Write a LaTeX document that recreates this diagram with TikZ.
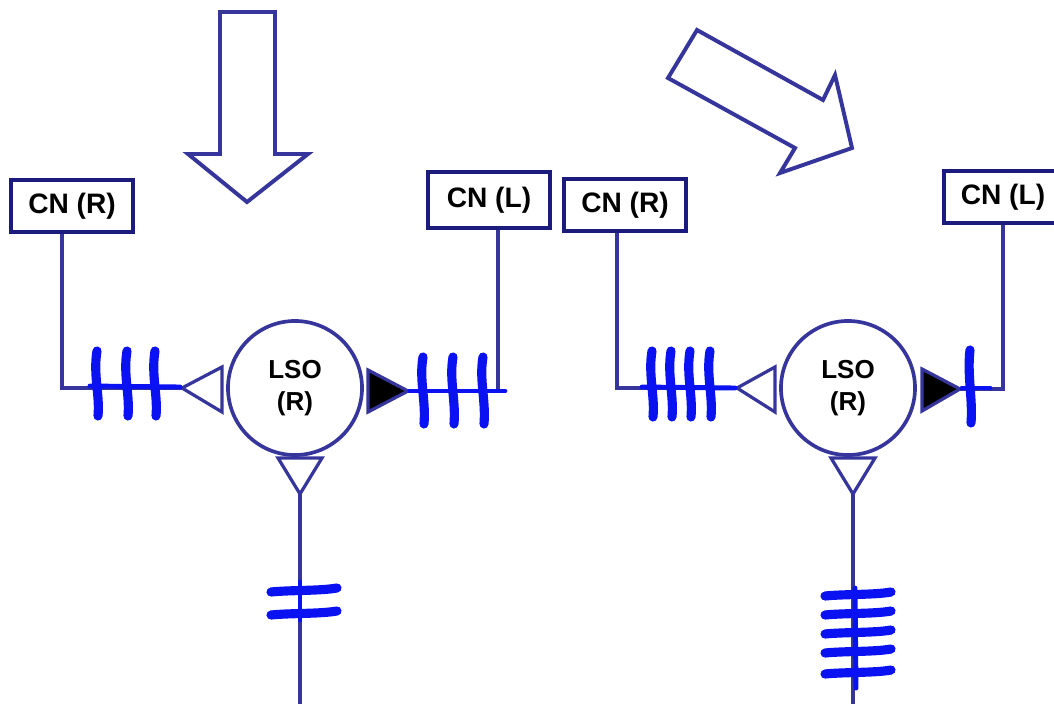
\documentclass[tikz,border=0pt]{standalone}
\usepackage{fontspec}
\setmainfont{Liberation Sans}
\usepackage{xcolor}
\definecolor{wireblue}{HTML}{35359B}
\definecolor{boxnavy}{HTML}{1B1B7D}
\definecolor{spikeblue}{HTML}{0A12F2}

\begin{document}
\begin{tikzpicture}[x=0.025cm,y=-0.025cm,
  cnbox/.style={draw=boxnavy,line width=2.8pt,fill=white,inner sep=0pt,minimum width=3.05cm,minimum height=1.32cm,font=\bfseries\fontsize{20}{24}\selectfont},
  lso/.style={circle,draw=wireblue,line width=2.6pt,fill=white,minimum size=3.35cm,inner sep=0pt,align=center,font=\bfseries\fontsize{18.5}{23}\selectfont},
  wire/.style={draw=wireblue,line width=2.3pt},
  bigarrow/.style={draw=wireblue,line width=2.8pt,line join=miter,fill=white},
  syn/.style={draw=wireblue,line width=2.3pt,line join=miter},
  spike/.style={draw=spikeblue,line width=6.5pt,line cap=round},
  spikeline/.style={draw=spikeblue,line width=3.5pt,line cap=round}]
\useasboundingbox (0,0) rectangle (1054,704);

\draw[bigarrow] (220,12) -- (275,12) -- (275,154) -- (308,154) -- (247,202) -- (188,154) -- (220,154) -- cycle;
\draw[bigarrow] (697,30) -- (823,100) -- (835,75) -- (852,148) -- (780,173) -- (795,148) -- (668,78) -- cycle;

\node[cnbox] (cnRa) at (72,206) {CN (R)};
\node[cnbox,minimum height=1.4cm] (cnLa) at (489,200) {CN (L)};
\node[lso] (lsoa) at (295,388) {LSO\\(R)};
\coordinate (inLa) at (182,388);
\coordinate (outLa) at (408,391);
\coordinate (downLa) at (300,494);
\coordinate (endLa) at (300,704);
\draw[wire] ([xshift=-0.25cm]cnRa.south) |- (inLa);
\draw[wire] (outLa) -| ([xshift=0.225cm]cnLa.south);
\draw[wire] (downLa) -- (endLa);
\draw[syn,fill=white] (inLa) -- (222,367) -- (222,412) -- cycle;
\draw[syn,fill=black] (368,370) -- (368,412) -- (outLa) -- cycle;
\draw[syn,fill=white] (278,458) -- (322,458) -- (downLa) -- cycle;

\node[cnbox] (cnRb) at (625,205) {CN (R)};
\node[cnbox,minimum width=2.95cm] (cnLb) at (1003,197) {CN (L)};
\node[lso] (lsob) at (848,388) {LSO\\(R)};
\coordinate (inLb) at (737,388);
\coordinate (outLb) at (960,389);
\coordinate (downLb) at (853,494);
\coordinate (endLb) at (853,704);
\draw[wire] ([xshift=-0.2cm]cnRb.south) |- (inLb);
\draw[wire] (outLb) -| (cnLb.south);
\draw[wire] (downLb) -- (endLb);
\draw[syn,fill=white] (inLb) -- (775,367) -- (775,412) -- cycle;
\draw[syn,fill=black] (922,369) -- (922,411) -- (outLb) -- cycle;
\draw[syn,fill=white] (831,458) -- (875,458) -- (downLb) -- cycle;

\draw[spikeline] (90,386) -- (180,387);
\foreach \sx in {97,127,155}
  \draw[spike] (\sx,351) .. controls (\sx-4,375) and (\sx+3,395) .. (\sx+1,416);
\draw[spikeline] (410,391) -- (505,391);
\foreach \sx in {423,453,483}
  \draw[spike] (\sx,357) .. controls (\sx-4,380) and (\sx+3,400) .. (\sx+1,424);
\draw[spikeline] (300,582) -- (300,620);
\foreach \sy in {590,613}
  \draw[spike] (271,\sy+2) .. controls (290,\sy) and (320,\sy+1) .. (337,\sy-2);

\draw[spikeline] (642,387) -- (735,388);
\foreach \sx in {652,671,690,710}
  \draw[spike] (\sx,351) .. controls (\sx-4,375) and (\sx+3,395) .. (\sx+1,417);
\draw[spikeline] (962,388) -- (990,388);
\draw[spike] (970,350) .. controls (967,375) and (973,400) .. (971,423);
\draw[spikeline] (855,588) -- (856,688);
\foreach \sy in {594,613,632,651,672}
  \draw[spike] (825,\sy+2) .. controls (845,\sy) and (875,\sy+1) .. (891,\sy-2);
\end{tikzpicture}
\end{document}
